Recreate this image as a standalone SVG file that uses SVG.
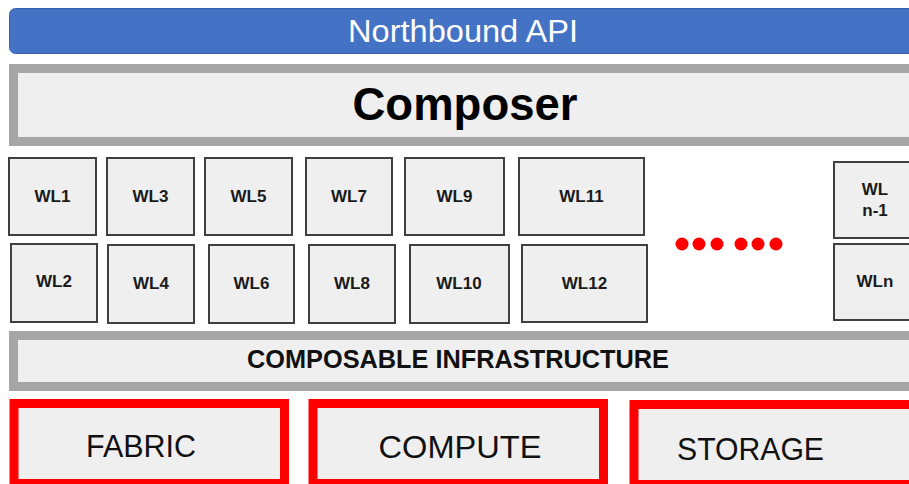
<svg xmlns="http://www.w3.org/2000/svg" width="909" height="484" viewBox="0 0 909 484">
<style>
.band{fill:#EFEFEF;stroke:#A6A6A6;stroke-width:9}
.wl{fill:#EFEFEF;stroke:#3F3F3F;stroke-width:2}
.wlt{font-family:"Liberation Sans",Arial,sans-serif;font-weight:bold;font-size:17px;fill:#1a1a1a;text-anchor:middle}
.res{fill:#EFEFEF;stroke:#FF0000;stroke-width:9}
.rest{font-family:"Liberation Sans",Arial,sans-serif;font-size:32px;fill:#111;text-anchor:middle}
.dot{fill:#FF0000}
</style>
<rect width="909" height="484" fill="#FFFFFF"/>
<g id="northbound">
<rect x="9.5" y="8.5" width="910" height="45" rx="6" fill="#4472C4" stroke="#3A63AD" stroke-width="1"/>
<text x="463" y="42" font-family="'Liberation Sans',Arial,sans-serif" font-size="31" fill="#FFFFFF" text-anchor="middle" textLength="230" lengthAdjust="spacingAndGlyphs">Northbound API</text>
</g>
<g id="composer">
<rect class="band" x="13.5" y="68.5" width="910" height="73"/>
<text x="465" y="120" font-family="'Liberation Sans',Arial,sans-serif" font-weight="bold" font-size="47" fill="#000" text-anchor="middle" textLength="225" lengthAdjust="spacingAndGlyphs">Composer</text>
</g>
<g id="wl1"><rect class="wl" x="9" y="158" width="87" height="77"/><text class="wlt" x="52.5" y="202">WL1</text></g>
<g id="wl3"><rect class="wl" x="107" y="158" width="87" height="77"/><text class="wlt" x="150.5" y="202">WL3</text></g>
<g id="wl5"><rect class="wl" x="205" y="158" width="87" height="77"/><text class="wlt" x="248.5" y="202">WL5</text></g>
<g id="wl7"><rect class="wl" x="306" y="158" width="86" height="77"/><text class="wlt" x="349" y="202">WL7</text></g>
<g id="wl9"><rect class="wl" x="405" y="158" width="99" height="77"/><text class="wlt" x="454.5" y="202">WL9</text></g>
<g id="wl11"><rect class="wl" x="519" y="158" width="125" height="77"/><text class="wlt" x="581.5" y="202">WL11</text></g>
<g id="wln-1"><rect class="wl" x="834" y="162" width="90" height="76"/><text class="wlt" x="875" y="195">WL</text><text class="wlt" x="875" y="216">n-1</text></g>
<g id="wl2"><rect class="wl" x="11" y="244" width="86" height="78"/><text class="wlt" x="54" y="287">WL2</text></g>
<g id="wl4"><rect class="wl" x="108" y="245" width="86" height="78"/><text class="wlt" x="151" y="289">WL4</text></g>
<g id="wl6"><rect class="wl" x="209" y="245" width="85" height="78"/><text class="wlt" x="251.5" y="289">WL6</text></g>
<g id="wl8"><rect class="wl" x="309" y="245" width="86" height="78"/><text class="wlt" x="352" y="289">WL8</text></g>
<g id="wl10"><rect class="wl" x="410" y="245" width="99" height="78"/><text class="wlt" x="459" y="289">WL10</text></g>
<g id="wl12"><rect class="wl" x="522" y="245" width="125" height="77"/><text class="wlt" x="584.5" y="289">WL12</text></g>
<g id="wln"><rect class="wl" x="834" y="244" width="90" height="76"/><text class="wlt" x="875" y="287">WLn</text></g>
<g id="ellipsis">
<circle class="dot" cx="682" cy="244" r="6.5"/>
<circle class="dot" cx="699" cy="244" r="6.5"/>
<circle class="dot" cx="717" cy="244" r="6.5"/>
<circle class="dot" cx="741" cy="244" r="6.5"/>
<circle class="dot" cx="758" cy="244" r="6.5"/>
<circle class="dot" cx="776" cy="244" r="6.5"/>
</g>
<g id="composable">
<rect class="band" x="13.5" y="335.5" width="910" height="51"/>
<text x="458" y="368" font-family="'Liberation Sans',Arial,sans-serif" font-weight="bold" font-size="26" fill="#111" text-anchor="middle" textLength="422" lengthAdjust="spacingAndGlyphs">COMPOSABLE INFRASTRUCTURE</text>
</g>
<g id="fabric"><rect class="res" x="14" y="403.5" width="270.5" height="80"/><text class="rest" x="141" y="457" textLength="110" lengthAdjust="spacingAndGlyphs">FABRIC</text></g>
<g id="compute"><rect class="res" x="313" y="403.5" width="290.5" height="80"/><text class="rest" x="460" y="458" textLength="163" lengthAdjust="spacingAndGlyphs">COMPUTE</text></g>
<g id="storage"><rect class="res" x="634" y="404.5" width="300" height="80"/><text class="rest" x="750.5" y="460" textLength="147" lengthAdjust="spacingAndGlyphs">STORAGE</text></g>
<g id="connectors"></g>
</svg>
